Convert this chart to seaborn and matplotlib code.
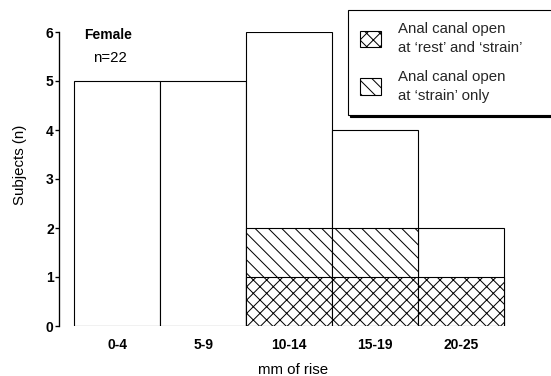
import matplotlib
matplotlib.use("Agg")
import matplotlib.pyplot as plt
import matplotlib.patches as mpatches
import numpy as np
import pandas as pd
import seaborn as sns

# ── Data ──────────────────────────────────────────────────────────────────────
ranges = ["0-4", "5-9", "10-14", "15-19", "20-25"]
subjects = [5, 5, 6, 4, 2]            # all subjects per rise band
open_rest_strain = [0, 0, 1, 1, 1]    # anal canal open at rest and strain
open_strain_only = [0, 0, 1, 1, 0]    # anal canal open at strain only

legend_labels = ["Anal canal open\nat \u2018rest\u2019 and \u2018strain\u2019",
                 "Anal canal open\nat \u2018strain\u2019 only"]

sns.set_theme(style="white")
plt.rcParams["font.family"] = ["Liberation Sans", "DejaVu Sans"]
plt.rcParams["hatch.linewidth"] = 0.9

W, H = 551, 376
DPI = 80
fig = plt.figure(figsize=(W / DPI, H / DPI), dpi=DPI)
ax = fig.add_axes([59.3 / W, 1 - 326 / H, (513 - 59.3) / W, (326 - 32) / H])

df = pd.DataFrame({
    "range": ranges,
    "total": subjects,
    "rest": open_rest_strain,
    "strain": np.array(open_rest_strain) + np.array(open_strain_only),
})

bar_kw = dict(order=ranges, width=1.0, edgecolor="black", linewidth=1.0,
              color="white", saturation=1, ax=ax, errorbar=None)

sns.barplot(data=df, x="range", y="total", **bar_kw)
sns.barplot(data=df[np.array(open_strain_only) > 0], x="range", y="strain",
            hatch="\\\\", **bar_kw)
sns.barplot(data=df[np.array(open_rest_strain) > 0], x="range", y="rest",
            hatch="xx", **bar_kw)

ax.set_xlim(-0.672, 4.6)
ax.set_ylim(0, 6)
ax.set_yticks(range(0, 7))
ax.set_xlabel("")
ax.set_ylabel("")

for s in ["top", "right", "bottom"]:
    ax.spines[s].set_visible(False)
ax.spines["left"].set_color("black")
ax.spines["left"].set_linewidth(1.2)

ax.tick_params(axis="y", left=True, length=4, width=1.2, color="black",
               labelsize=12.5, pad=1)
ax.tick_params(axis="x", bottom=False, labelsize=12.5, pad=5)
for lab in ax.get_xticklabels() + ax.get_yticklabels():
    lab.set_fontweight("bold")
    lab.set_color("black")

fig.text(20 / W, 1 - 165 / H, "Subjects (n)", rotation=90, ha="center",
         va="center", fontsize=13.5, color="black")
fig.text(293 / W, 1 - 370 / H, "mm of rise", ha="center", va="center",
         fontsize=13.5, color="black")
fig.text(108 / W, 1 - 35 / H, "Female", ha="center", va="center",
         fontsize=12.5, fontweight="bold", color="black")
fig.text(110 / W, 1 - 58 / H, "n=22", ha="center", va="center",
         fontsize=13.5, color="black")

handles = [mpatches.Patch(facecolor="white", edgecolor="black", hatch="xx", linewidth=1.0),
           mpatches.Patch(facecolor="white", edgecolor="black", hatch="\\\\", linewidth=1.0)]
leg = fig.legend(handles, legend_labels, loc="upper left",
                 bbox_to_anchor=(348 / W, 1 - 10 / H, (560 - 348) / W, 0),
                 mode="expand", borderaxespad=0, prop={"size": 13.5},
                 handlelength=1.4, handleheight=1.35, handletextpad=1.1,
                 labelspacing=1.0, borderpad=0.8, fancybox=False,
                 frameon=True, edgecolor="black", framealpha=1,
                 shadow={"color": "black", "alpha": 1})
leg.get_frame().set_linewidth(1.0)
for t in leg.get_texts():
    t.set_linespacing(1.45)

fig.savefig("out.png", dpi=DPI, facecolor="white")
